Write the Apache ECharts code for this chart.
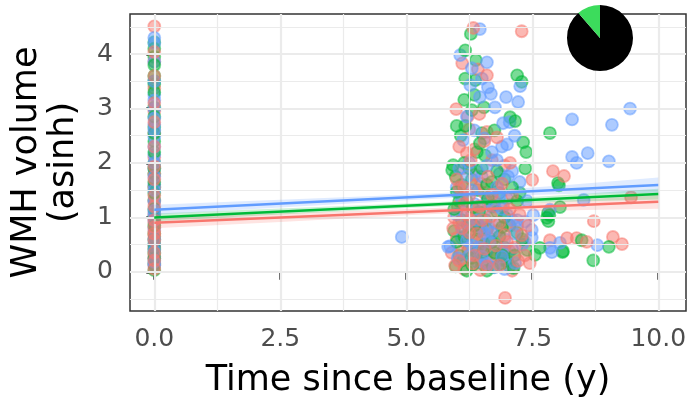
<!DOCTYPE html>
<html>
<head>
<meta charset="utf-8">
<style>
  html, body { margin: 0; padding: 0; background: #fff; }
  #chart { width: 693px; height: 398px; }
</style>
<script src="https://cdn.jsdelivr.net/npm/echarts@6.0.0/dist/echarts.min.js"></script>
</head>
<body>
<div id="chart"></div>
<script>
// WMH volume (asinh) at baseline (time = 0), per group
const redBaseline = [4.51, 4.04, 3.86, 3.6, 3.37, 3.1, 2.95, 2.75, 2.55, 2.3, 2.1, 1.93, 1.8, 1.7, 1.55, 1.4, 1.3, 1.2, 1.07, 0.95, 0.9, 0.82, 0.75, 0.7, 0.65, 0.58, 0.45, 0.35, 0.28, 0.21, 0.12, 0.05]
const greenBaseline = [4.22, 4.1, 3.95, 3.8, 3.6, 3.5, 3.45, 3.3, 3.02, 2.85, 2.66, 2.55, 2.4, 2.2, 2.0, 1.9, 1.8, 1.65, 1.56, 1.45, 1.32, 1.15, 1.0, 0.85, 0.7, 0.6, 0.5, 0.42, 0.34, 0.25, 0.15, 0.03]
const blueBaseline = [4.3, 4.2, 3.86, 3.5, 3.25, 3.15, 3.0, 2.82, 2.7, 2.6, 2.48, 2.3, 2.15, 2.0, 1.9, 1.75, 1.6, 1.5, 1.3, 1.13, 1.05, 0.95, 0.8, 0.6, 0.5, 0.4, 0.25, 0.18, 0.12]

// follow-up visits: [time (y), WMH volume]
const redFollowUp = [
  [7.29, 4.42], [6.33, 4.48], [6.11, 3.83], [6.6, 3.61], [6.42, 3.72], [5.99, 2.99], [6.6, 2.57], [6.8, 2.47],
  [6.2, 2.18], [7.06, 2.0], [7.5, 1.69], [6.45, 2.9], [6.25, 2.62], [6.05, 2.3], [6.7, 2.05], [6.9, 1.62],
  [6.35, 1.78], [6.05, 1.55], [6.55, 1.45], [6.15, 1.25], [6.75, 1.3], [7.05, 1.15], [6.3, 1.05], [6.5, 0.95],
  [5.95, 1.0], [6.85, 0.9], [7.2, 0.85], [6.1, 0.8], [5.93, 0.8], [6.4, 0.7], [6.65, 0.62], [7.0, 0.55],
  [6.2, 0.5], [6.55, 0.42], [6.9, 0.35], [6.35, 0.3], [6.73, 0.25], [6.05, 0.2], [6.47, 0.03], [6.6, 0.1],
  [7.45, 0.16], [7.29, 0.67], [7.85, 0.58], [8.19, 0.62], [8.38, 0.62], [8.58, 0.55], [9.1, 0.64], [9.28, 0.51],
  [8.72, 0.93], [9.46, 1.37], [7.91, 1.85], [8.13, 1.76], [6.96, -0.48], [7.15, 0.45], [6.8, 0.75], [6.25, 1.4],
  [6.95, 1.95], [6.45, 1.2], [5.9, 0.35], [7.35, 0.3], [6.15, 0.05],
  [6.0, 1.7], [6.12, 1.9], [6.28, 2.05], [6.38, 1.6], [6.62, 1.75], [6.82, 1.55], [7.1, 1.4], [6.02, 1.2],
  [6.2, 1.05], [6.42, 0.88], [6.68, 1.02], [6.92, 1.2], [7.25, 1.05], [6.0, 0.62], [6.25, 0.72], [6.5, 0.58],
  [6.78, 0.48], [7.05, 0.38], [7.22, 0.2], [6.1, 0.38], [6.32, 0.15], [6.58, 0.28], [6.85, 0.12], [7.1, 0.02],
  [5.97, 0.12], [6.4, 0.45], [6.95, 0.68], [7.35, 0.55], [6.15, 1.55], [6.48, 1.62], [6.7, 1.42], [7.0, 0.88],
  [6.28, 0.95], [6.62, 0.82], [6.05, 0.9], [6.8, 0.3], [7.42, 0.85], [6.35, 2.25], [6.55, 2.4], [6.22, 2.85]
]
const greenFollowUp = [
  [6.28, 4.37], [6.17, 4.07], [6.38, 3.89], [6.17, 3.55], [6.37, 3.52], [7.2, 3.61], [7.29, 3.49], [6.15, 3.16],
  [6.54, 3.02], [6.3, 2.97], [7.06, 2.84], [7.16, 2.77], [6.0, 2.68], [6.17, 2.68], [7.85, 2.55], [6.46, 2.36],
  [7.32, 2.38], [7.38, 2.2], [6.56, 2.14], [5.93, 1.96], [5.91, 1.87], [7.36, 1.9], [8.01, 1.63], [6.0, 1.47],
  [6.3, 1.7], [6.6, 1.6], [6.85, 1.45], [7.1, 1.55], [6.2, 1.3], [6.45, 1.1], [6.7, 1.2], [6.95, 1.0],
  [6.1, 0.95], [6.35, 0.85], [6.6, 0.78], [6.85, 0.65], [7.2, 0.72], [6.0, 0.55], [6.23, 0.4], [6.53, 0.36],
  [6.13, 0.21], [6.31, 0.12], [6.71, 0.08], [7.13, 0.07], [7.55, 0.31], [7.65, 0.44], [8.1, 0.36], [7.79, 0.99],
  [7.81, 1.08], [8.03, 1.59], [8.05, 1.19], [7.84, 1.04], [7.82, 0.93], [9.02, 0.46], [8.71, 0.21], [8.48, 0.58],
  [8.11, 0.38], [6.9, 0.3], [6.4, 0.6], [6.8, 1.85], [6.5, 2.55], [5.95, 1.15], [7.0, 0.2], [6.25, 0.7], [6.55, 0.5],
  [5.98, 1.75], [6.1, 1.6], [6.25, 1.9], [6.42, 1.5], [6.7, 1.65], [6.95, 1.7], [7.2, 1.3], [6.05, 1.3],
  [6.32, 1.18], [6.58, 0.95], [6.8, 1.1], [7.05, 0.85], [7.3, 0.6], [5.95, 0.75], [6.15, 0.65], [6.45, 0.75],
  [6.7, 0.55], [6.95, 0.45], [7.15, 0.3], [6.05, 0.3], [6.28, 0.25], [6.5, 0.15], [6.75, 0.35], [7.05, 0.1],
  [6.2, 0.02], [6.6, 0.02], [6.88, 0.15], [5.98, 0.1], [6.4, 0.35], [7.25, 1.45], [6.15, 2.0], [6.4, 2.2],
  [6.62, 1.35], [6.22, 0.85], [6.9, 0.82], [7.4, 0.4], [6.5, 1.9], [6.08, 2.5], [6.75, 2.6], [6.35, 3.25]
]
const blueFollowUp = [
  [6.46, 4.46], [6.07, 3.98], [6.3, 3.74], [6.6, 3.85], [6.27, 3.43], [7.26, 3.41], [6.62, 3.39], [6.68, 3.27],
  [6.98, 3.21], [7.22, 3.12], [6.46, 3.21], [6.76, 3.02], [6.92, 2.73], [8.29, 2.8], [6.13, 2.42], [7.0, 2.34],
  [8.29, 2.11], [8.38, 2.0], [7.02, 1.75], [9.44, 3.0], [9.08, 2.7], [8.6, 2.18], [9.02, 2.03], [8.52, 1.32],
  [8.79, 0.49], [7.89, 0.36], [6.11, 0.8], [5.87, 0.47], [6.2, 0.58], [6.93, 0.21], [7.16, 0.16], [7.85, 0.44],
  [8.05, 0.53], [7.85, 1.14], [7.49, 0.63], [7.49, 0.77], [7.52, 1.04], [4.91, 0.64], [5.83, 0.46], [6.5, 1.75],
  [6.8, 1.55], [7.0, 1.35], [6.3, 1.5], [6.6, 1.3], [6.9, 1.15], [6.15, 1.1], [6.4, 0.95], [6.75, 0.9],
  [7.1, 0.95], [6.55, 0.7], [6.25, 0.3], [6.85, 0.45], [6.6, 0.15], [7.25, 1.65], [6.05, 1.9], [6.7, 2.2],
  [7.15, 2.5], [6.35, 2.6], [7.4, 1.3], [6.95, 0.05], [6.45, 0.45],
  [6.0, 1.55], [6.2, 1.75], [6.4, 1.85], [6.6, 1.95], [6.85, 1.8], [7.1, 1.85], [6.1, 1.35], [6.35, 1.25],
  [6.55, 1.1], [6.75, 1.2], [7.0, 1.05], [7.2, 0.95], [6.0, 1.05], [6.22, 0.9], [6.48, 0.82], [6.7, 0.72],
  [6.95, 0.6], [7.15, 0.7], [6.1, 0.62], [6.3, 0.5], [6.6, 0.4], [6.9, 0.28], [7.1, 0.42], [6.02, 0.25],
  [6.4, 0.18], [6.75, 0.08], [7.3, 0.5], [6.5, 0.28], [6.85, 1.38], [6.25, 2.0], [6.55, 2.45], [6.9, 2.3],
  [7.05, 2.75], [6.2, 2.85], [6.5, 3.55], [6.8, 2.05], [7.35, 0.92], [6.65, 0.55]
]

// linear fits (x = 0 and x = 10) and confidence bands
const fitX = [0, 10]
const redFit = [0.9, 1.287]
const greenFit = [1.0, 1.428]
const blueFit = [1.14, 1.594]
const bandX = [0, 2.5, 5, 6.5, 8, 10]
const redLo = [0.8, 0.917, 1.039, 1.097, 1.125, 1.157]
const redHi = [1.0, 1.077, 1.149, 1.207, 1.295, 1.417]
const greenLo = [0.93, 1.052, 1.174, 1.238, 1.282, 1.328]
const greenHi = [1.07, 1.162, 1.254, 1.318, 1.402, 1.528]
const blueLo = [1.05, 1.183, 1.317, 1.385, 1.423, 1.454]
const blueHi = [1.23, 1.323, 1.417, 1.485, 1.583, 1.734]

// inset pie
const pieShares = [88.6, 11.4]

const xTicks = [0, 2.5, 5, 7.5, 10]
const xMinor = [1.25, 3.75, 6.25, 8.75]
const yTicks = [0, 1, 2, 3, 4]
const yMinor = [-0.5, 0.5, 1.5, 2.5, 3.5, 4.5]

const RED = "#F8766D"
const GREEN = "#00BA38"
const BLUE = "#619CFF"
const FONT = "DejaVu Sans"

const chart = echarts.init(document.getElementById("chart"))

// all rows of one group, split in two halves (even / odd rows) so the
// groups can be layered alternately like the original plotting order
function groupRows(baseline, followUp, part) {
  const rows = baseline.map((y) => [0, y]).concat(followUp)
  return rows.filter((_, i) => i % 2 === part)
}

function points(color, baseline, followUp, part) {
  return {
    type: "scatter",
    data: groupRows(baseline, followUp, part),
    symbolSize: 12,
    itemStyle: { color, borderColor: color, borderWidth: 1.8, opacity: 0.52 },
    z: 3,
    silent: true,
  }
}

function fitLine(color, fit) {
  return {
    type: "line",
    data: fitX.map((x, i) => [x, fit[i]]),
    symbol: "none",
    lineStyle: { color, width: 2.5 },
    z: 6,
    silent: true,
  }
}

// confidence ribbon: one polygon through the band rows
function band(color, lo, hi) {
  return {
    type: "custom",
    data: bandX.map((x, i) => [x, lo[i], hi[i]]),
    renderItem: (params, api) => {
      if (params.dataIndex !== 0) return null
      const upper = bandX.map((x, i) => api.coord([x, hi[i]]))
      const lower = bandX.map((x, i) => api.coord([x, lo[i]])).reverse()
      return {
        type: "polygon",
        shape: { points: upper.concat(lower) },
        style: { fill: color, opacity: 0.2 },
      }
    },
    z: 5,
    silent: true,
  }
}

const gridLine = (w) => ({ color: "#EBEBEB", width: w, type: "solid" })

chart.setOption({
  animation: false,
  grid: {
    left: 130, right: 7, top: 14, bottom: 87,
    show: true, borderColor: "#333333", borderWidth: 1.5, backgroundColor: "#fff",
    outerBoundsMode: "none",
  },
  xAxis: {
    type: "value",
    min: -0.482,
    max: 10.55,
    name: "Time since baseline (y)",
    nameLocation: "middle",
    nameGap: 52,
    nameTextStyle: { color: "#000", fontSize: 35, fontFamily: FONT },
    axisLine: { show: false },
    axisTick: { show: true, customValues: xTicks, length: 8, lineStyle: { color: "#333333", width: 2.5 } },
    axisLabel: {
      customValues: xTicks, margin: 16, color: "#4D4D4D", fontSize: 25, fontFamily: FONT,
      formatter: (v) => v.toFixed(1),
    },
    splitLine: { show: false },
  },
  yAxis: {
    type: "value",
    min: -0.72,
    max: 4.737,
    name: "WMH volume\n(asinh)",
    nameLocation: "middle",
    nameGap: 48,
    nameTextStyle: { color: "#000", fontSize: 35, lineHeight: 37, fontFamily: FONT },
    axisLine: { show: false },
    axisTick: { show: true, customValues: yTicks, length: 8, lineStyle: { color: "#333333", width: 2.5 } },
    axisLabel: { customValues: yTicks, margin: 17, color: "#4D4D4D", fontSize: 25, fontFamily: FONT },
    splitLine: { show: false },
  },
  series: [
    {
      type: "line",
      data: [],
      silent: true,
      z: 1,
      markLine: {
        silent: true,
        symbol: ["none", "none"],
        label: { show: false },
        animation: false,
        data: [
          ...xMinor.map((x) => ({ xAxis: x, lineStyle: gridLine(1.2) })),
          ...yMinor.map((y) => ({ yAxis: y, lineStyle: gridLine(1.2) })),
          ...xTicks.map((x) => ({ xAxis: x, lineStyle: gridLine(2.2) })),
          ...yTicks.map((y) => ({ yAxis: y, lineStyle: gridLine(2.2) })),
        ],
      },
    },
    points(GREEN, greenBaseline, greenFollowUp, 0),
    points(RED, redBaseline, redFollowUp, 0),
    points(BLUE, blueBaseline, blueFollowUp, 0),
    points(GREEN, greenBaseline, greenFollowUp, 1),
    points(BLUE, blueBaseline, blueFollowUp, 1),
    points(RED, redBaseline, redFollowUp, 1),
    band(RED, redLo, redHi),
    band(GREEN, greenLo, greenHi),
    band(BLUE, blueLo, blueHi),
    fitLine(RED, redFit),
    fitLine(GREEN, greenFit),
    fitLine(BLUE, blueFit),
    {
      type: "pie",
      center: [600, 38],
      radius: 33,
      startAngle: 90,
      clockwise: true,
      silent: true,
      label: { show: false },
      labelLine: { show: false },
      z: 10,
      data: [
        { value: pieShares[0], itemStyle: { color: "#000000" } },
        { value: pieShares[1], itemStyle: { color: "#3CDC5C" } },
      ],
      itemStyle: { borderWidth: 0 },
    },
  ],
})
</script>
</body>
</html>
